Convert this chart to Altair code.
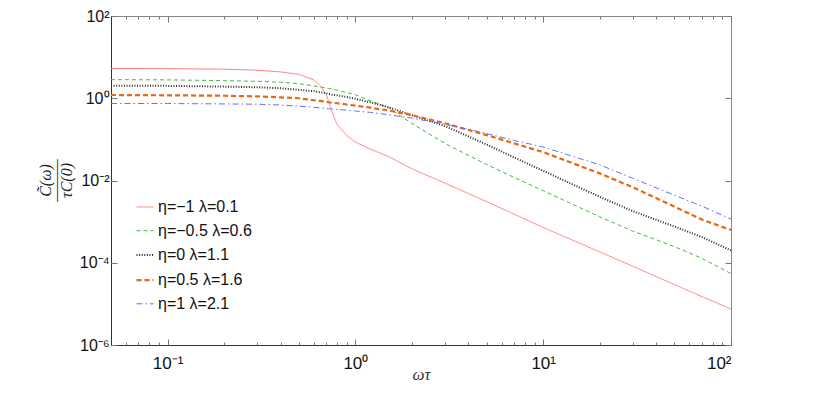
import altair as alt
import pandas as pd

# ---------------- data ----------------
x_vals = [0.05, 0.1, 0.2, 0.3, 0.4, 0.5, 0.6, 0.65, 0.7, 0.72, 0.75, 0.78, 0.8, 0.85, 0.9, 1.0,
          1.2, 1.5, 2, 3, 5, 7, 10, 20, 30, 50, 70, 100]

series_names = ["η=−1 λ=0.1", "η=−0.5 λ=0.6", "η=0 λ=1.1", "η=0.5 λ=1.6", "η=1 λ=2.1"]

y_eta_m1 = [5.3, 5.25, 5.1, 4.81, 4.37, 3.8, 2.8, 2.0, 1.23, 0.845, 0.485, 0.302, 0.231, 0.168,
            0.124, 0.086, 0.058, 0.0385, 0.0192, 0.00865, 0.00306, 0.00152, 7.2e-4, 1.84e-4,
            8.2e-5, 2.95e-5, 1.5e-5, 7.5e-6]
y_eta_m05 = [2.83, 2.80, 2.68, 2.58, 2.44, 2.27, 2.0, 1.89, 1.77, 1.73, 1.66, 1.60, 1.56, 1.47,
             1.38, 1.22, 0.87, 0.596, 0.244, 0.0794, 0.0244, 0.0119, 0.00564, 0.00131, 5.9e-4,
             2.47e-4, 1.28e-4, 5.45e-5]
y_eta_0 = [2.02, 2.0, 1.92, 1.85, 1.75, 1.61, 1.49, 1.40, 1.32, 1.27, 1.22, 1.20, 1.18, 1.12,
           1.07, 0.97, 0.80, 0.605, 0.388, 0.21, 0.075, 0.0364, 0.0172, 0.0040, 0.0018, 7.6e-4,
           4.2e-4, 2.0e-4]
y_eta_05 = [1.20, 1.18, 1.15, 1.11, 1.05, 1.0, 0.895, 0.86, 0.82, 0.80, 0.78, 0.765, 0.755, 0.73,
            0.705, 0.66, 0.589, 0.505, 0.388, 0.246, 0.127, 0.080, 0.049, 0.0149, 0.00684,
            0.00231, 0.00112, 6.25e-4]
y_eta_1 = [0.745, 0.745, 0.728, 0.716, 0.685, 0.641, 0.606, 0.582, 0.564, 0.556, 0.548, 0.541,
           0.536, 0.524, 0.513, 0.49, 0.454, 0.397, 0.328, 0.235, 0.139, 0.094, 0.0653, 0.024,
           0.0113, 0.00438, 0.00238, 1.15e-3]

x_label_vals = [0.1, 1, 10, 100]
x_label_text = ["10⁻¹", "10⁰", "10¹", "10²"]
y_label_vals = [1e-6, 1e-4, 1e-2, 1, 100]
y_label_text = ["10⁻⁶", "10⁻⁴", "10⁻²", "10⁰", "10²"]
x_tick_vals = [0.06, 0.07, 0.08, 0.09, 0.1, 0.2, 0.3, 0.4, 0.5, 0.6, 0.7, 0.8, 0.9, 1,
               2, 3, 4, 5, 6, 7, 8, 9, 10, 20, 30, 40, 50, 60, 70, 80, 90, 100]

# ---------------- styling ----------------
colors = ["#ff7f7f", "#44b844", "#2a2a2a", "#e8680f", "#5b73ff"]
dashes = [[1, 0], [4, 3], [1, 1.6], [5, 3], [6, 3, 1.5, 3]]
widths = [1, 1, 2.0, 2.2, 1]

rows = []
for name, ys in zip(series_names, [y_eta_m1, y_eta_m05, y_eta_0, y_eta_05, y_eta_1]):
    for xv, yv in zip(x_vals, ys):
        rows.append({"series": name, "x": xv, "y": yv})
df = pd.DataFrame(rows)

W, H = 620, 329


def label_expr(vals, texts):
    expr = "''"
    for v, t in reversed(list(zip(vals, texts))):
        expr = f"abs(datum.value - {v}) < {v}*0.001 ? '{t}' : ({expr})"
    return expr


xscale = alt.Scale(type="log", domain=[0.05, 100], nice=False)
yscale = alt.Scale(type="log", domain=[1e-6, 100], nice=False)

major_test = "abs(log(datum.value)/LN10 - round(log(datum.value)/LN10)) < 0.001"
x_ticksize = {"condition": {"test": major_test, "value": 6}, "value": 3}

legend_kw = dict(title=None, orient="none", legendX=24, legendY=182)

lines = alt.Chart(df).mark_line(clip=True).encode(
    x=alt.X("x:Q", scale=xscale, axis=alt.Axis(
        orient="bottom", values=x_label_vals, labelExpr=label_expr(x_label_vals, x_label_text),
        ticks=False, grid=False, domain=True, domainColor="#333",
        labelFont="Liberation Sans", labelFontSize=17, labelColor="#111", labelPadding=10,
        title="ωτ", titleFont="Liberation Serif", titleFontStyle="italic",
        titleFontWeight="normal", titleFontSize=17, titleColor="#333",
        titleX=W / 2, titleY=29, titleBaseline="middle", titleAlign="center")),
    y=alt.Y("y:Q", scale=yscale, axis=alt.Axis(
        orient="left", values=y_label_vals, labelExpr=label_expr(y_label_vals, y_label_text),
        ticks=False, grid=False, domain=True, domainColor="#333",
        labelFont="Liberation Sans", labelFontSize=16, labelColor="#111", labelPadding=2,
        labelBaseline="middle",
        title=["C̃(ω)", "———", "τC(0)"], titleFont="Liberation Serif", titleFontStyle="italic",
        titleFontWeight="normal", titleFontSize=16, titleColor="#222", titleLineHeight=10.5,
        titleAngle=270, titleX=-66, titleY=164, titleAlign="center", titleBaseline="middle")),
    color=alt.Color("series:N", scale=alt.Scale(domain=series_names, range=colors),
                    legend=alt.Legend(**legend_kw)),
    strokeDash=alt.StrokeDash("series:N", scale=alt.Scale(domain=series_names, range=dashes),
                              legend=alt.Legend(**legend_kw)),
    strokeWidth=alt.StrokeWidth("series:O",
                                scale=alt.Scale(type="ordinal", domain=series_names, range=widths),
                                legend=alt.Legend(**legend_kw)),
)

# inward ticks on the bottom and left edges
ticks_a = alt.Chart(df).mark_point(opacity=0).encode(
    x=alt.X("x:Q", scale=xscale, axis=alt.Axis(
        orient="top", offset=-H, values=x_tick_vals, labels=False, domain=False, grid=False,
        tickColor="#777", tickSize=x_ticksize, title=None)),
    y=alt.Y("y:Q", scale=yscale, axis=alt.Axis(
        orient="right", offset=-W, values=y_label_vals, labels=False, domain=False, grid=False,
        tickColor="#777", tickSize=6, title=None)),
)
# inward ticks on the top and right edges
ticks_b = alt.Chart(df).mark_point(opacity=0).encode(
    x=alt.X("x:Q", scale=xscale, axis=alt.Axis(
        orient="bottom", offset=-H, values=x_tick_vals, labels=False, domain=False, grid=False,
        tickColor="#777", tickSize=x_ticksize, title=None)),
    y=alt.Y("y:Q", scale=yscale, axis=alt.Axis(
        orient="left", offset=-W, values=y_label_vals, labels=False, domain=False, grid=False,
        tickColor="#777", tickSize=6, title=None)),
)

chart = alt.layer(lines, ticks_a, ticks_b).resolve_axis(
    x="independent", y="independent"
).properties(
    width=W, height=H,
    padding={"left": 103, "top": 8, "right": 91, "bottom": 50},
    autosize=alt.AutoSizeParams(type="none"),
).configure_view(
    stroke="#888", strokeWidth=1
).configure_legend(
    symbolType="stroke", symbolSize=289, labelFont="Liberation Sans", labelFontSize=16,
    labelColor="#111", labelOffset=3, rowPadding=6.7, padding=0
)

chart.save("out.html", embed_options={"renderer": "svg", "actions": False})
